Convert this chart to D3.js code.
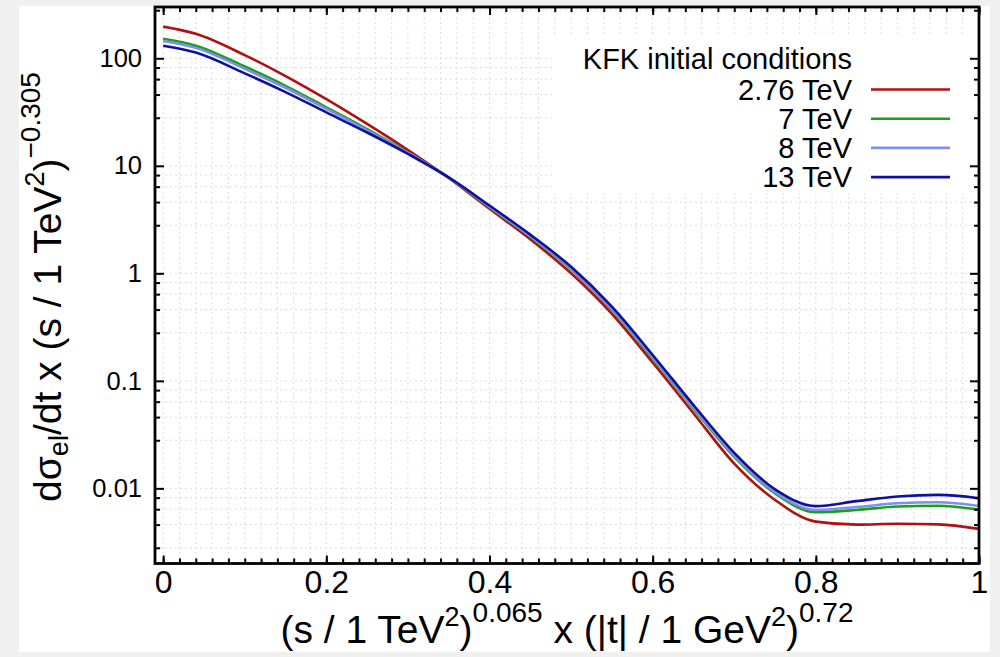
<!DOCTYPE html>
<html><head><meta charset="utf-8">
<script src="https://cdn.jsdelivr.net/npm/d3@7"></script>
<style>
html,body{margin:0;padding:0;background:#f0f0f0;}
svg{display:block;font-family:"Liberation Sans",Arial,sans-serif;}
</style></head>
<body>
<svg id="c" width="1000" height="657"></svg>
<script>
const xValues = [0, 0.04, 0.1, 0.15, 0.2, 0.25, 0.3, 0.35, 0.4, 0.45, 0.5, 0.55, 0.6, 0.65, 0.7, 0.75, 0.8, 0.85, 0.9, 0.95, 1.0];
const seriesNames = ["2.76 TeV", "7 TeV", "8 TeV", "13 TeV"];
const red276 = [197, 169, 107, 68.4, 41.7, 24.5, 14.0, 7.7, 3.98, 2.07, 1.0, 0.42, 0.148, 0.05, 0.017, 0.0078, 0.0049, 0.0046, 0.00468, 0.00462, 0.0042];
const green7 = [152, 131, 83.8, 55.5, 35.0, 21.9, 13.3, 7.75, 4.12, 2.19, 1.09, 0.457, 0.162, 0.0552, 0.0196, 0.00897, 0.0060, 0.0063, 0.00678, 0.00689, 0.00634];
const lblue8 = [145, 125, 79.9, 53.2, 33.8, 21.4, 13.2, 7.78, 4.17, 2.22, 1.11, 0.468, 0.166, 0.0566, 0.0202, 0.00923, 0.0063, 0.0067, 0.00726, 0.00743, 0.00686];
const blue13 = [131, 113, 72.4, 48.5, 31.4, 20.4, 12.9, 7.8, 4.27, 2.29, 1.15, 0.49, 0.174, 0.0596, 0.0214, 0.0098, 0.00684, 0.0076, 0.0084, 0.0087, 0.0081];
const seriesColors = ["#b01010", "#18a018", "#7f8ff0", "#1010a0"];
const xTickValues = [0, 0.2, 0.4, 0.6, 0.8, 1];
const xTickLabels = ["0", "0.2", "0.4", "0.6", "0.8", "1"];
const yTickValues = [0.01, 0.1, 1, 10, 100];
const yTickLabels = ["0.01", "0.1", "1", "10", "100"];
const legendTitle = "KFK initial conditions";

const svg = d3.select("#c");
svg.append("rect").attr("x", 19).attr("y", 6).attr("width", 971).attr("height", 646).attr("fill", "#fff");

const L = 155, R = 979, T = 7, B = 563.5;
const x = d3.scaleLinear().domain([-0.01, 1.0]).range([L, R]);
const y = d3.scaleLog().domain([0.002, 300]).range([B, T]);

const xMinor = d3.range(0, 1.0001, 0.02).map(v => +v.toFixed(2));
const yMinor = [];
for (let e = -3; e <= 2; e++) {
  for (let k = 1; k <= 4; k++) {
    const v = Math.pow(10, e) * (1 + 1.8 * k);
    if (v >= 0.002 && v <= 300) yMinor.push(v);
  }
}
const yAll = yTickValues.concat(yMinor);

const grid = svg.append("g").attr("stroke", "#dcdcdc").attr("stroke-width", 1).attr("stroke-dasharray", "2,3");
grid.selectAll("line.gx").data(xMinor).join("line")
  .attr("x1", d => x(d)).attr("x2", d => x(d)).attr("y1", T).attr("y2", B);
grid.selectAll("line.gy").data(yAll).join("line")
  .attr("y1", d => y(d)).attr("y2", d => y(d)).attr("x1", L).attr("x2", R);

svg.append("rect").attr("x", 553).attr("y", 36).attr("width", R - 553 - 2).attr("height", 157).attr("fill", "#fff");

const allSeries = [red276, green7, lblue8, blue13];
const line = d3.line().x((d, i) => x(xValues[i])).y(d => y(d)).curve(d3.curveMonotoneX);
svg.append("clipPath").attr("id", "clp").append("rect").attr("x", L).attr("y", T).attr("width", R - L).attr("height", B - T);
const curves = svg.append("g").attr("clip-path", "url(#clp)");
allSeries.forEach((s, i) => {
  curves.append("path").attr("d", line(s)).attr("fill", "none")
    .attr("stroke", seriesColors[i]).attr("stroke-width", 2.6).attr("stroke-linejoin", "round");
});

function styleTicks(g) { g.select(".domain").remove(); g.selectAll("line").attr("stroke", "#000").attr("stroke-width", 2); }

const gB = svg.append("g").attr("transform", `translate(0,${B})`)
  .call(d3.axisBottom(x).tickValues(xTickValues).tickFormat((d, i) => xTickLabels[i]).tickSize(-8).tickPadding(7));
styleTicks(gB);
gB.selectAll("text").attr("font-size", 32).attr("fill", "#000").attr("font-family", "Liberation Sans, Arial, sans-serif");
styleTicks(svg.append("g").attr("transform", `translate(0,${B})`).call(d3.axisBottom(x).tickValues(xMinor).tickFormat("").tickSize(-5)));
styleTicks(svg.append("g").attr("transform", `translate(0,${T})`).call(d3.axisTop(x).tickValues(xTickValues).tickFormat("").tickSize(-8)));
styleTicks(svg.append("g").attr("transform", `translate(0,${T})`).call(d3.axisTop(x).tickValues(xMinor).tickFormat("").tickSize(-5)));

const gL = svg.append("g").attr("transform", `translate(${L},0)`)
  .call(d3.axisLeft(y).tickValues(yTickValues).tickFormat((d, i) => yTickLabels[i]).tickSize(-9).tickPadding(13));
styleTicks(gL);
gL.selectAll("text").attr("font-size", 25.5).attr("fill", "#000").attr("font-family", "Liberation Sans, Arial, sans-serif");
styleTicks(svg.append("g").attr("transform", `translate(${L},0)`).call(d3.axisLeft(y).tickValues(yMinor).tickFormat("").tickSize(-5)));
styleTicks(svg.append("g").attr("transform", `translate(${R},0)`).call(d3.axisRight(y).tickValues(yTickValues).tickFormat("").tickSize(-9)));
styleTicks(svg.append("g").attr("transform", `translate(${R},0)`).call(d3.axisRight(y).tickValues(yMinor).tickFormat("").tickSize(-5)));

svg.append("rect").attr("x", L).attr("y", T).attr("width", R - L).attr("height", B - T)
  .attr("fill", "none").attr("stroke", "#000").attr("stroke-width", 2.8);

const lg = svg.append("g").attr("font-size", 29).attr("fill", "#000");
lg.append("text").attr("x", 852).attr("y", 69).attr("text-anchor", "end").text(legendTitle);
seriesNames.forEach((n, i) => {
  const yy = 89.5 + i * 29.2;
  lg.append("text").attr("x", 852).attr("y", yy + 10).attr("text-anchor", "end").text(n);
  lg.append("line").attr("x1", 871).attr("x2", 950).attr("y1", yy).attr("y2", yy)
    .attr("stroke", seriesColors[i]).attr("stroke-width", 2.6);
});

const xt = svg.append("text").attr("x", 567).attr("y", 643).attr("text-anchor", "middle").attr("font-size", 39).attr("fill", "#000");
xt.append("tspan").text("(s / 1 TeV");
xt.append("tspan").attr("dy", -17).attr("font-size", 27).text("2");
xt.append("tspan").attr("dy", 17).text(")");
xt.append("tspan").attr("dy", -21).attr("font-size", 28).text("0.065");
xt.append("tspan").attr("dy", 21).text(" x (|t| / 1 GeV");
xt.append("tspan").attr("dy", -17).attr("font-size", 27).text("2");
xt.append("tspan").attr("dy", 17).text(")");
xt.append("tspan").attr("dy", -21).attr("font-size", 28).text("0.72");

const yt = svg.append("text").attr("transform", "translate(61,287) rotate(-90)").attr("text-anchor", "middle").attr("font-size", 39).attr("fill", "#000");
yt.append("tspan").text("dσ");
yt.append("tspan").attr("dy", 7).attr("font-size", 27).text("el");
yt.append("tspan").attr("dy", -7).text("/dt x (s / 1 TeV");
yt.append("tspan").attr("dy", -17).attr("font-size", 27).text("2");
yt.append("tspan").attr("dy", 17).text(")");
yt.append("tspan").attr("dy", -21).attr("font-size", 28).text("−0.305");
</script>
</body></html>
